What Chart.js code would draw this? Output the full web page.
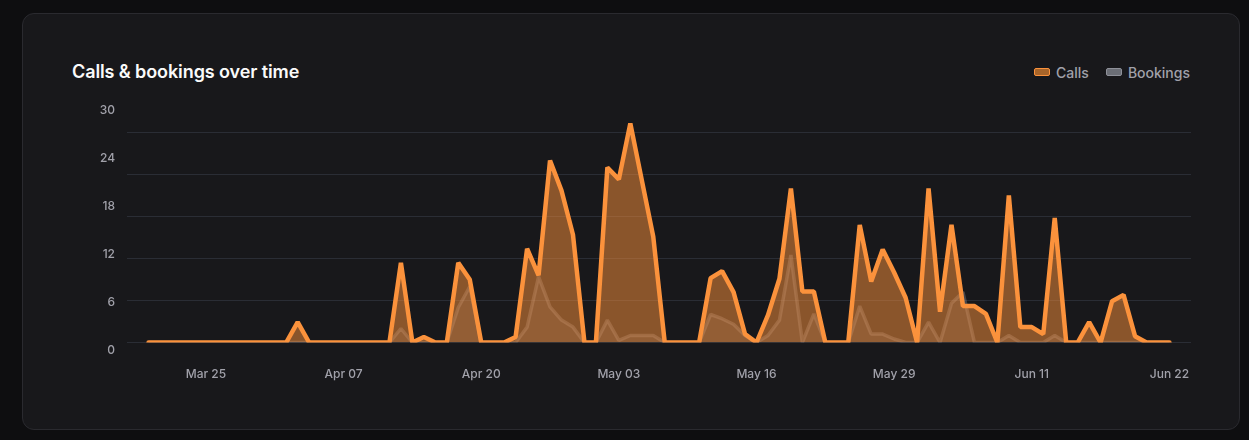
<!DOCTYPE html>
<html>
<head>
<meta charset="utf-8">
<script src="https://cdn.jsdelivr.net/npm/chart.js@4.4.1/dist/chart.umd.min.js"></script>
<style>
  html, body { margin:0; padding:0; width:1249px; height:440px; overflow:hidden; background:#0e0e10; font-family: Inter, "Noto Sans", sans-serif; }
  .card { position:absolute; left:22px; top:13px; width:1216px; height:415px; background:#18181b; border:1px solid #2a2a2f; border-radius:12px; }
  .title { position:absolute; left:72px; top:60px; font-size:18px; line-height:24px; font-weight:600; color:#fafafa; letter-spacing:-0.1px; }
  .legend { position:absolute; right:59px; top:62px; height:20px; display:flex; align-items:center; font-size:14px; font-weight:500; color:#a1a1aa; }
  .item { display:flex; align-items:center; }
  .item + .item { margin-left:17px; }
  .swatch { width:14px; height:6px; border-radius:2px; margin-right:6px; border:1px solid; }
  #wrap { position:absolute; left:0; top:0; width:1249px; height:440px; }
</style>
</head>
<body>
<div class="card"></div>
<div class="title">Calls &amp; bookings over time</div>
<div class="legend" id="legend"></div>
<div id="wrap"><canvas id="c"></canvas></div>
<script>
// ---- data ----
const seriesNames = ['Calls', 'Bookings'];
const xTickLabels = ['Mar 25', 'Apr 07', 'Apr 20', 'May 03', 'May 16', 'May 29', 'Jun 11', 'Jun 22'];
const xTickIndex  = [5, 17, 29, 41, 53, 65, 77, 89];
const yTickValues = [0, 6, 12, 18, 24, 30];

const calls = [
  0,0,0,0,0,0,0,0,0,0,
  0,0,0,2.9,0,0,0,0,0,0,
  0,0,11.4,0,0.8,0,0,11.4,9.0,0,
  0,0,0.8,13.4,9.6,26.0,21.7,15.4,0,0,
  25.0,23.3,31.3,23.2,15.1,0,0,0,0,9.2,
  10.2,7.2,1.2,0,3.9,9.1,22.0,7.3,7.3,0,
  0,0,16.8,8.7,13.3,10.0,6.4,0,22.0,4.4,
  16.8,5.2,5.2,4.1,0,21.0,2.2,2.2,1.2,17.8,
  0,0,2.9,0,5.9,6.8,0.9,0,0,0
];
const bookings = [
  0,0,0,0,0,0,0,0,0,0,
  0,0,0,0,0,0,0,0,0,0,
  0,0,2,0,0,0,0,5,8,0,
  0,0,0,2.2,9.4,5.1,3.2,2.2,0,0,
  3.2,0.3,1,1,1,0,0,0,0,4,
  3.4,2.6,1,0,1,3.2,12.5,0,4.1,0,
  0,0,5.2,1.2,1.2,0.5,0,0,2.9,0,
  5.6,7.2,0,0,0,1,0,0,0,1,
  0,0,0,0,0,0,0,0,0,0
];

// ---- styles ----
const callsLine = '#fb923c', callsFill = 'rgba(251,146,60,0.5)';
const bookLine = 'rgba(161,161,170,0.32)', bookFill = 'rgba(113,113,122,0.22)';
const tickColor = '#a1a1aa', gridColor = '#2a2d35';

// HTML legend
const legendEl = document.getElementById('legend');
[[seriesNames[0], '#a8652a', callsLine], [seriesNames[1], '#6b6e76', '#8e9099']].forEach(([name, bg, bd]) => {
  const it = document.createElement('div'); it.className = 'item';
  const sw = document.createElement('span'); sw.className = 'swatch'; sw.style.background = bg; sw.style.borderColor = bd;
  const tx = document.createElement('span'); tx.textContent = name;
  it.appendChild(sw); it.appendChild(tx); legendEl.appendChild(it);
});

Chart.defaults.font.family = 'Inter, "Noto Sans", sans-serif';
const toPts = arr => arr.map((v, i) => ({ x: i, y: v }));
const tickFont = { size: 12, weight: '500' };

new Chart(document.getElementById('c'), {
  type: 'line',
  data: {
    datasets: [
      { label: seriesNames[0], data: toPts(calls), borderColor: callsLine, backgroundColor: callsFill,
        fill: 'origin', borderWidth: 4.5, pointRadius: 0, tension: 0, borderJoinStyle: 'bevel', borderCapStyle: 'round', order: 0 },
      { label: seriesNames[1], data: toPts(bookings), borderColor: bookLine, backgroundColor: bookFill,
        fill: 'origin', borderWidth: 3.5, pointRadius: 0, tension: 0, borderJoinStyle: 'bevel', order: 1 }
    ]
  },
  options: {
    responsive: true, maintainAspectRatio: false, animation: false,
    layout: { padding: { left: 0, right: 58, top: 100, bottom: 47.5 } },
    plugins: { legend: { display: false }, tooltip: { enabled: false } },
    scales: {
      x: {
        type: 'linear', min: -1.88, max: 90.88,
        grid: { display: false, drawTicks: false }, border: { display: false },
        afterBuildTicks: s => { s.ticks = xTickIndex.map(v => ({ value: v })); },
        ticks: { autoSkip: false, maxRotation: 0, padding: 25, color: tickColor, font: tickFont,
                 callback: (v, i) => xTickLabels[i] },
        afterFit: s => { s.height = 50; }
      },
      y: {
        position: 'left', min: 0, max: 242.5 / 7,
        grid: { color: gridColor, drawTicks: false, lineWidth: 1 }, border: { display: false },
        ticks: { display: false },
        afterBuildTicks: s => { s.ticks = yTickValues.map(v => ({ value: v })); },
        afterFit: s => { s.width = 0; }
      },
      yTicks: {
        axis: 'y', position: 'left', min: 0, max: 242.5 / 8,
        grid: { display: false, drawTicks: false }, border: { display: false },
        afterBuildTicks: s => { s.ticks = yTickValues.map(v => ({ value: v })); },
        ticks: { padding: 12, labelOffset: 7.5, color: tickColor, font: tickFont },
        afterFit: s => { s.width = 127; }
      }
    }
  }
});
</script>
</body>
</html>
